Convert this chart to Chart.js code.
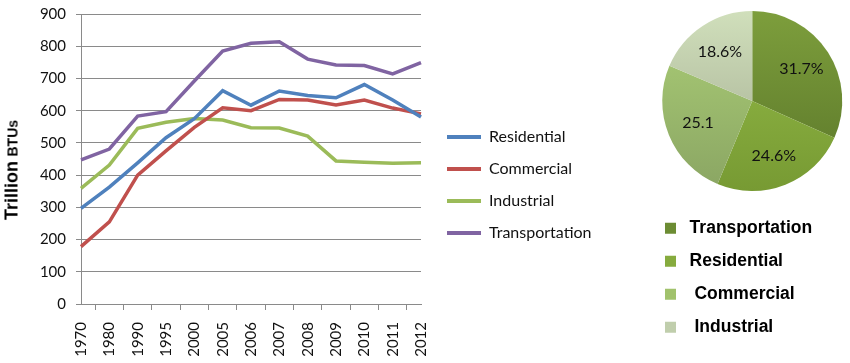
<!DOCTYPE html>
<html>
<head>
<meta charset="utf-8">
<script src="https://cdn.jsdelivr.net/npm/chart.js@4/dist/chart.umd.min.js"></script>
<style>
  html, body { margin:0; padding:0; background:#fff; }
  body { width:850px; height:363px; position:relative; overflow:hidden; }
  #lineWrap { position:absolute; left:0; top:0; width:630px; height:363px; }
  #pieWrap { position:absolute; left:640px; top:-2px; width:215px; height:363px; }
  #ytitle { position:absolute; left:12px; top:170px; transform:translate(-50%,-50%) rotate(-90deg);
            white-space:nowrap; font-family:'Liberation Sans', Arial, sans-serif; font-weight:bold; color:#000; }
</style>
</head>
<body>
<div id="lineWrap"><canvas id="lineChart"></canvas></div>
<div id="pieWrap"><canvas id="pieChart"></canvas></div>
<div id="ytitle"><span style="font-size:18px">Trillion</span> <span style="font-size:14px">BTUs</span></div>
<script>
// ---- data ----
const years = ['1970','1980','1990','1995','2000','2005','2006','2007','2008','2009','2010','2011','2012'];
const residential    = [297, 363, 438, 516, 575, 662, 617, 661, 647, 640, 681, 633, 580];
const commercial     = [178, 255, 400, 475, 548, 609, 600, 635, 633, 618, 633, 608, 590];
const industrial     = [359, 431, 545, 564, 576, 571, 547, 546, 521, 444, 440, 437, 438];
const transportation = [447, 481, 583, 597, 692, 785, 809, 814, 760, 742, 740, 714, 749];
const seriesNames = ['Residential', 'Commercial', 'Industrial', 'Transportation'];
const yTicks = [0, 100, 200, 300, 400, 500, 600, 700, 800, 900];

const pieNames  = ['Transportation', 'Residential', 'Commercial', 'Industrial'];
const pieValues = [31.7, 24.6, 25.1, 18.6];
const pieLabels = ['31.7%', '24.6%', '25.1', '18.6%'];

// ---- styles ----
const lineColors = ['#4F81BD', '#C0504D', '#9BBB59', '#8064A2'];
const gridColor = '#8a8a8a';
const pieTop    = ['#7d9e3c', '#95bc48', '#accf77', '#d0dfbb'];
const pieBottom = ['#5a7629', '#779a33', '#8aa563', '#a1a98f'];
const pieSolid  = ['#6c8c33', '#86ab3e', '#a1c26c', '#c0ceac'];
const legendPrefix = [' ', ' ', '  ', '  '];

const lineData = [residential, commercial, industrial, transportation];

// places the line-chart legend a little to the right of the plot area
const legendPlace = {
  id: 'legendPlace',
  afterLayout(chart) {
    const lg = chart.legend;
    if (!lg) return;
    lg.left = chart.chartArea.right + 10;
    lg.right = chart.width - 5;
    lg.width = lg.right - lg.left;
    lg.top -= 3.5;
    lg.bottom -= 3.5;
  }
};

new Chart(document.getElementById('lineChart'), {
  type: 'line',
  data: {
    labels: years,
    datasets: seriesNames.map((n, i) => ({
      label: n,
      data: lineData[i],
      borderColor: lineColors[i],
      backgroundColor: lineColors[i],
      borderWidth: 3.5,
      pointRadius: 0,
      tension: 0,
      fill: false
    }))
  },
  options: {
    responsive: true,
    maintainAspectRatio: false,
    animation: false,
    layout: { padding: { top: 14, right: 69, bottom: 0, left: 0 } },
    plugins: {
      tooltip: { enabled: false },
      legend: {
        position: 'right',
        maxWidth: 140,
        labels: {
          boxWidth: 34,
          boxHeight: 4,
          padding: 16,
          color: '#111',
          font: { family: 'Lato', size: 16 },
          generateLabels(chart) {
            const items = Chart.defaults.plugins.legend.labels.generateLabels(chart);
            items.forEach(it => { it.lineWidth = 0; });
            return items;
          }
        }
      }
    },
    scales: {
      x: {
        grid: { display: true, offset: true, drawOnChartArea: false, color: gridColor, tickLength: 6 },
        border: { display: true, color: gridColor },
        ticks: { minRotation: 90, maxRotation: 90, padding: 12, color: '#111', font: { family: 'Lato', size: 15 }, autoSkip: false },
        afterFit(s) { s.height = 59; }
      },
      y: {
        min: 0, max: 900,
        afterBuildTicks(s) { s.ticks = yTicks.map(v => ({ value: v })); },
        grid: { color: gridColor, tickLength: 5 },
        border: { display: true, color: gridColor },
        ticks: { padding: 10, color: '#111', font: { family: 'Lato', size: 15 } },
        afterFit(s) { s.width = 81; s.paddingTop = 0; s.paddingBottom = 0; }
      }
    }
  },
  plugins: [legendPlace]
});

const pieLabelPlugin = {
  id: 'pieLabels',
  afterDatasetsDraw(chart) {
    const ctx = chart.ctx;
    const meta = chart.getDatasetMeta(0);
    ctx.save();
    ctx.font = '16px Lato';
    ctx.fillStyle = '#111';
    ctx.textAlign = 'center';
    ctx.textBaseline = 'middle';
    meta.data.forEach((arc, i) => {
      const p = arc.getProps(['x','y','startAngle','endAngle','outerRadius'], true);
      const mid = (p.startAngle + p.endAngle) / 2;
      const r = p.outerRadius * 0.65;
      ctx.fillText(pieLabels[i], p.x + Math.cos(mid) * r, p.y + Math.sin(mid) * r);
    });
    ctx.restore();
  }
};

new Chart(document.getElementById('pieChart'), {
  type: 'pie',
  data: {
    labels: pieNames,
    datasets: [{
      data: pieValues,
      borderWidth: 0,
      backgroundColor(c) {
        const chart = c.chart;
        const area = chart.chartArea;
        const i = c.dataIndex;
        if (!area || i === undefined) return pieSolid[i || 0];
        const cy = (area.top + area.bottom) / 2;
        const g = chart.ctx.createLinearGradient(0, cy - 90, 0, cy + 90);
        g.addColorStop(0, pieTop[i]);
        g.addColorStop(1, pieBottom[i]);
        return g;
      }
    }]
  },
  options: {
    responsive: true,
    maintainAspectRatio: false,
    animation: false,
    radius: 90,
    layout: { padding: { top: 0, right: 0, bottom: 15, left: 9.5 } },
    plugins: {
      tooltip: { enabled: false },
      legend: {
        position: 'bottom',
        align: 'start',
        labels: {
          boxWidth: 11,
          boxHeight: 11,
          padding: 15.5,
          color: '#000',
          font: { family: 'Liberation Sans', size: 17.5, weight: 'bold' },
          generateLabels(chart) {
            return pieNames.map((n, i) => ({
              text: legendPrefix[i] + n,
              fillStyle: pieSolid[i],
              strokeStyle: pieSolid[i],
              lineWidth: 0,
              hidden: false,
              index: i,
              fontColor: '#000'
            }));
          }
        }
      }
    }
  },
  plugins: [pieLabelPlugin]
});
</script>
</body>
</html>
